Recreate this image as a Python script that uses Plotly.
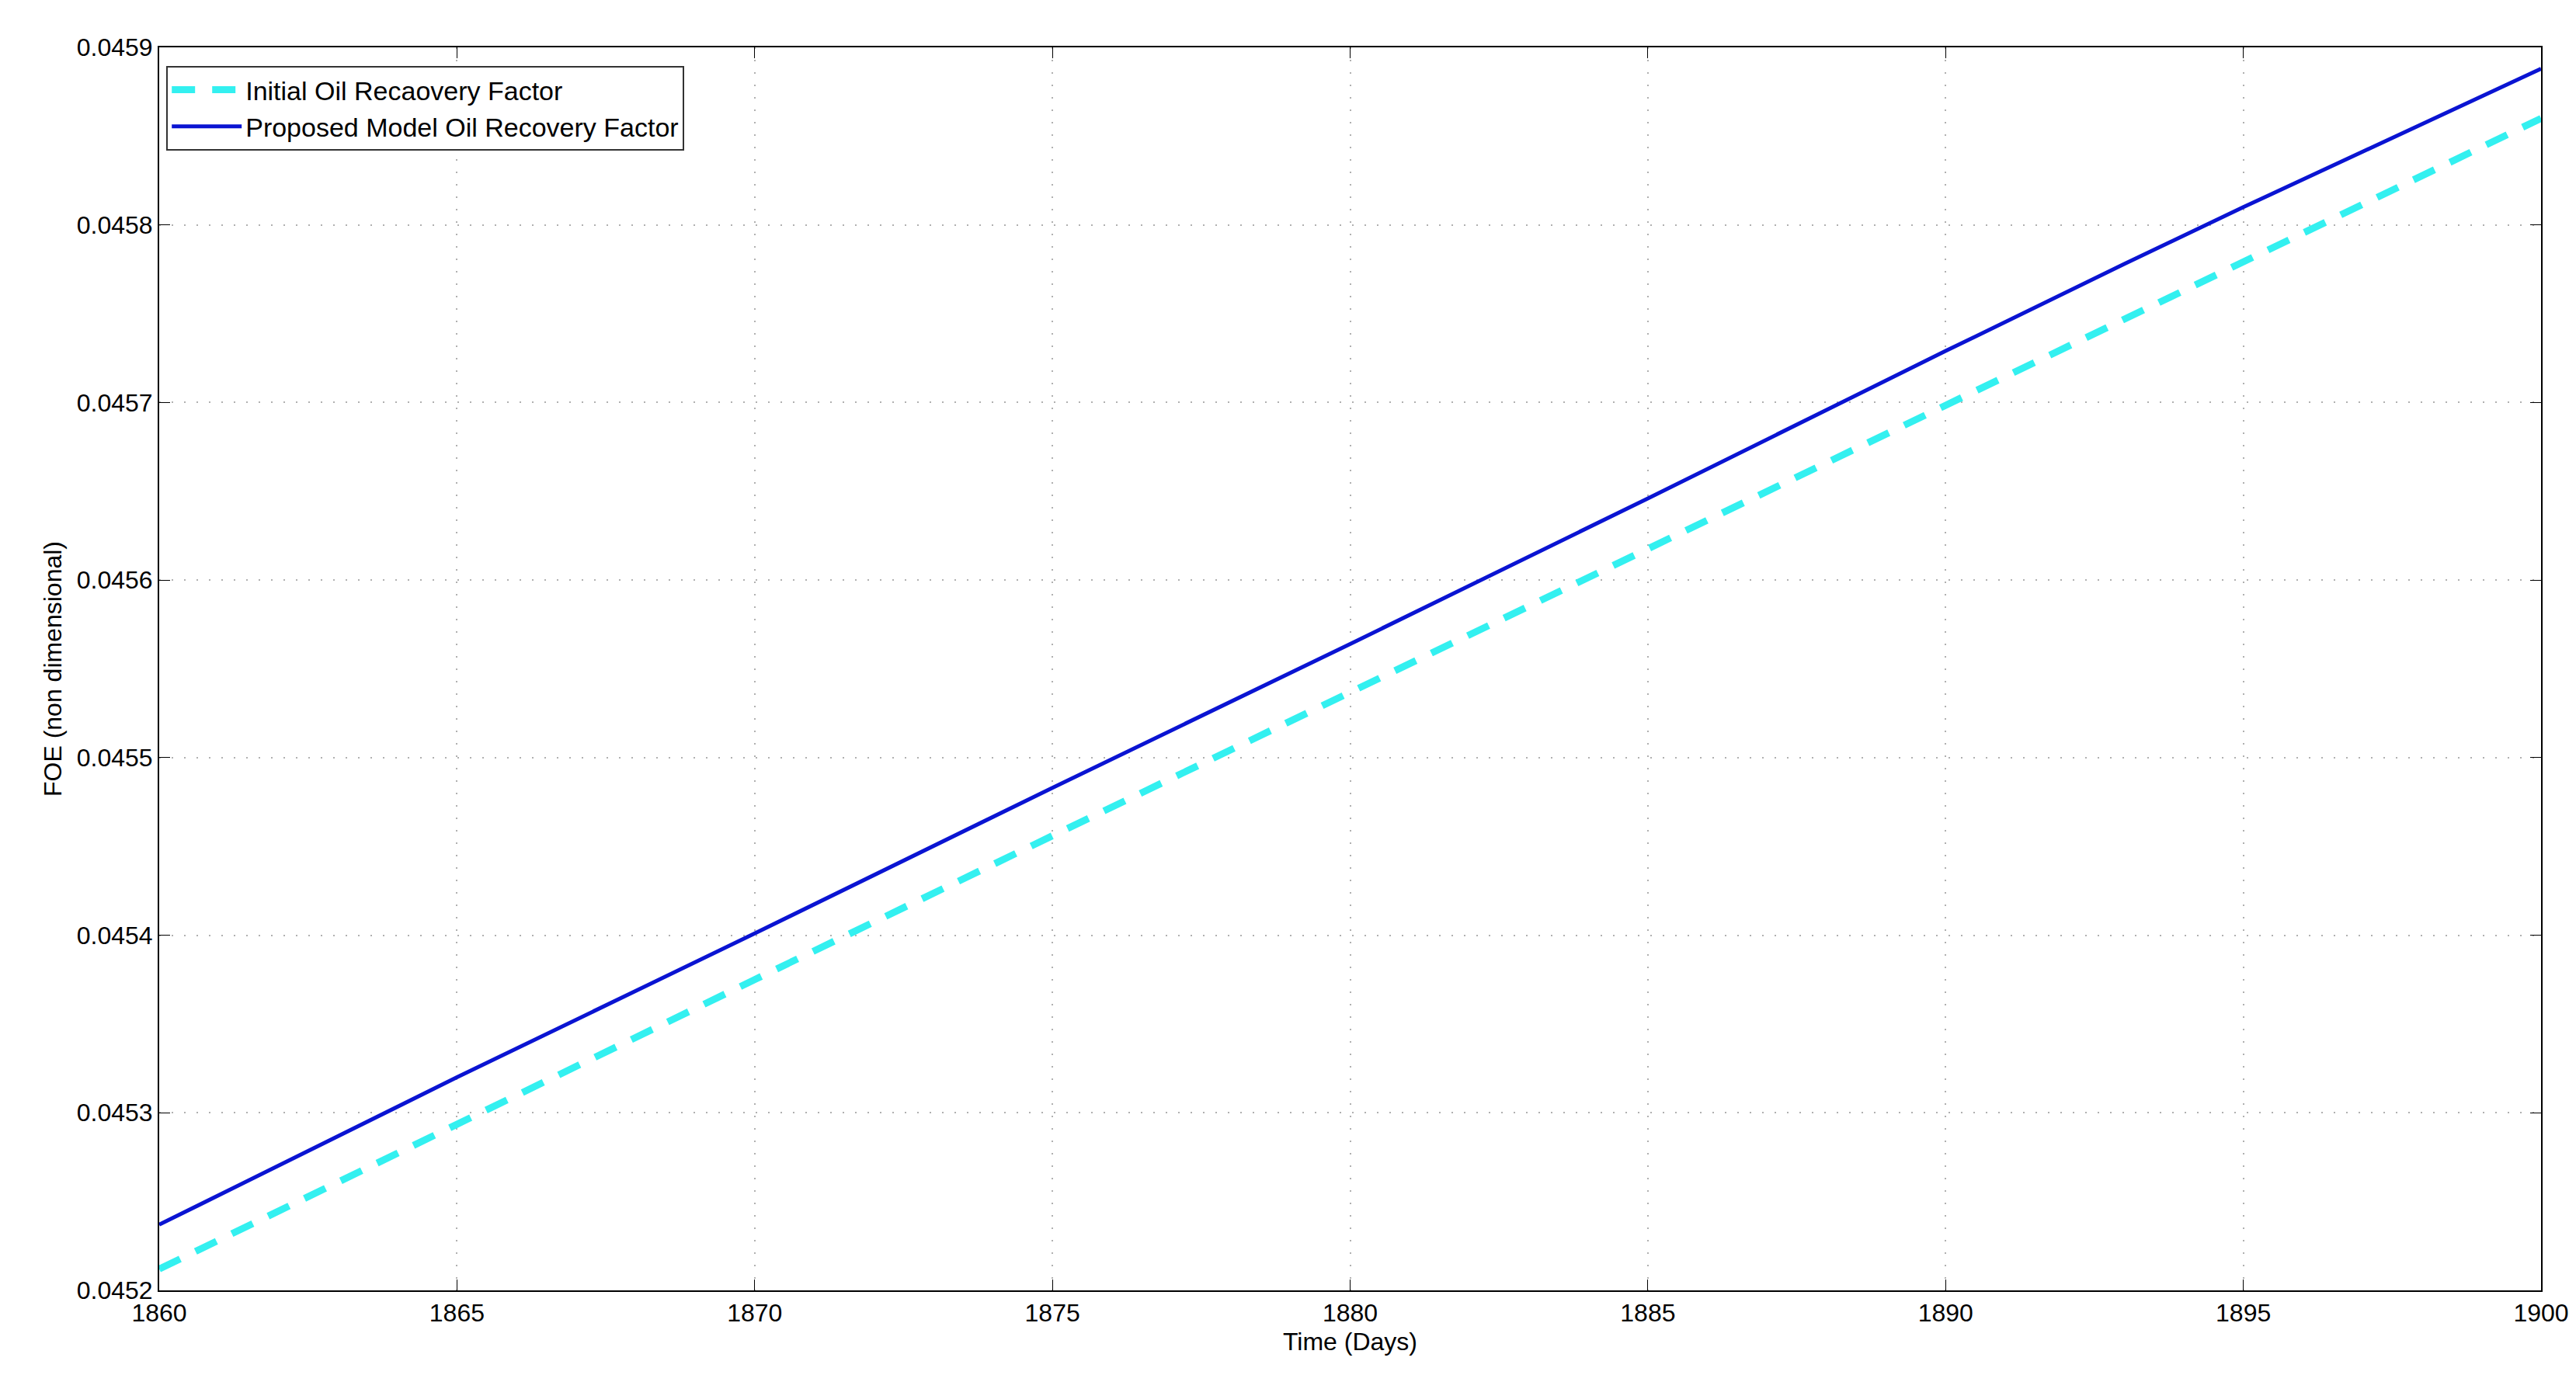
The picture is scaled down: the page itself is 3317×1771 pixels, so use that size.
import plotly.graph_objects as go

days = [1860, 1865, 1870, 1875, 1880, 1885, 1890, 1893, 1895, 1900]
proposed = [0.045237, 0.045320, 0.045401, 0.045483, 0.045564, 0.045646, 0.045729, 0.045778, 0.045810, 0.045888]
days_init = [1860, 1865, 1870, 1875, 1880, 1885, 1890, 1895, 1900]
initial = [0.045212, 0.045294, 0.045375, 0.045456, 0.045537, 0.045618, 0.045699, 0.045780, 0.045860]
xticks = [1860, 1865, 1870, 1875, 1880, 1885, 1890, 1895, 1900]
yticks = [0.0452, 0.0453, 0.0454, 0.0455, 0.0456, 0.0457, 0.0458, 0.0459]

fig = go.Figure()
fig.add_trace(go.Scatter(x=days_init, y=initial, mode="lines", name="Initial Oil Recaovery Factor",
                         line=dict(color="#33F0F0", width=9, dash="30px,22px")))
fig.add_trace(go.Scatter(x=days, y=proposed, mode="lines", name="Proposed Model Oil Recovery Factor",
                         line=dict(color="#0A14D2", width=5)))

axis_common = dict(showline=True, linecolor="black", linewidth=2, mirror="ticks", ticks="inside",
                   ticklen=14, tickcolor="black", showgrid=True, gridcolor="#b0b0b0",
                   griddash="2px,14px", gridwidth=1.5, zeroline=False,
                   tickfont=dict(size=32, color="black"))
fig.update_xaxes(range=[1860, 1900], tickvals=xticks, ticktext=[str(t) for t in xticks],
                 title=dict(text="Time (Days)", font=dict(size=32, color="black"), standoff=8),
                 **axis_common)
fig.update_yaxes(range=[0.0452, 0.0459], tickvals=yticks, ticktext=[f"{t:.4f}" for t in yticks],
                 title=dict(text="FOE (non dimensional)", font=dict(size=32, color="black"), standoff=10),
                 **axis_common)
fig.update_layout(width=3317, height=1771, plot_bgcolor="white", paper_bgcolor="white",
                  font=dict(family="Liberation Sans, Arial, sans-serif"),
                  margin=dict(l=197, r=53, t=53, b=117),
                  legend=dict(x=0.003, y=0.985, xanchor="left", yanchor="top",
                              bgcolor="white", bordercolor="#333333", borderwidth=2,
                              font=dict(size=34, color="black"), itemwidth=90, tracegroupgap=0))
fig.write_html("out.html")
